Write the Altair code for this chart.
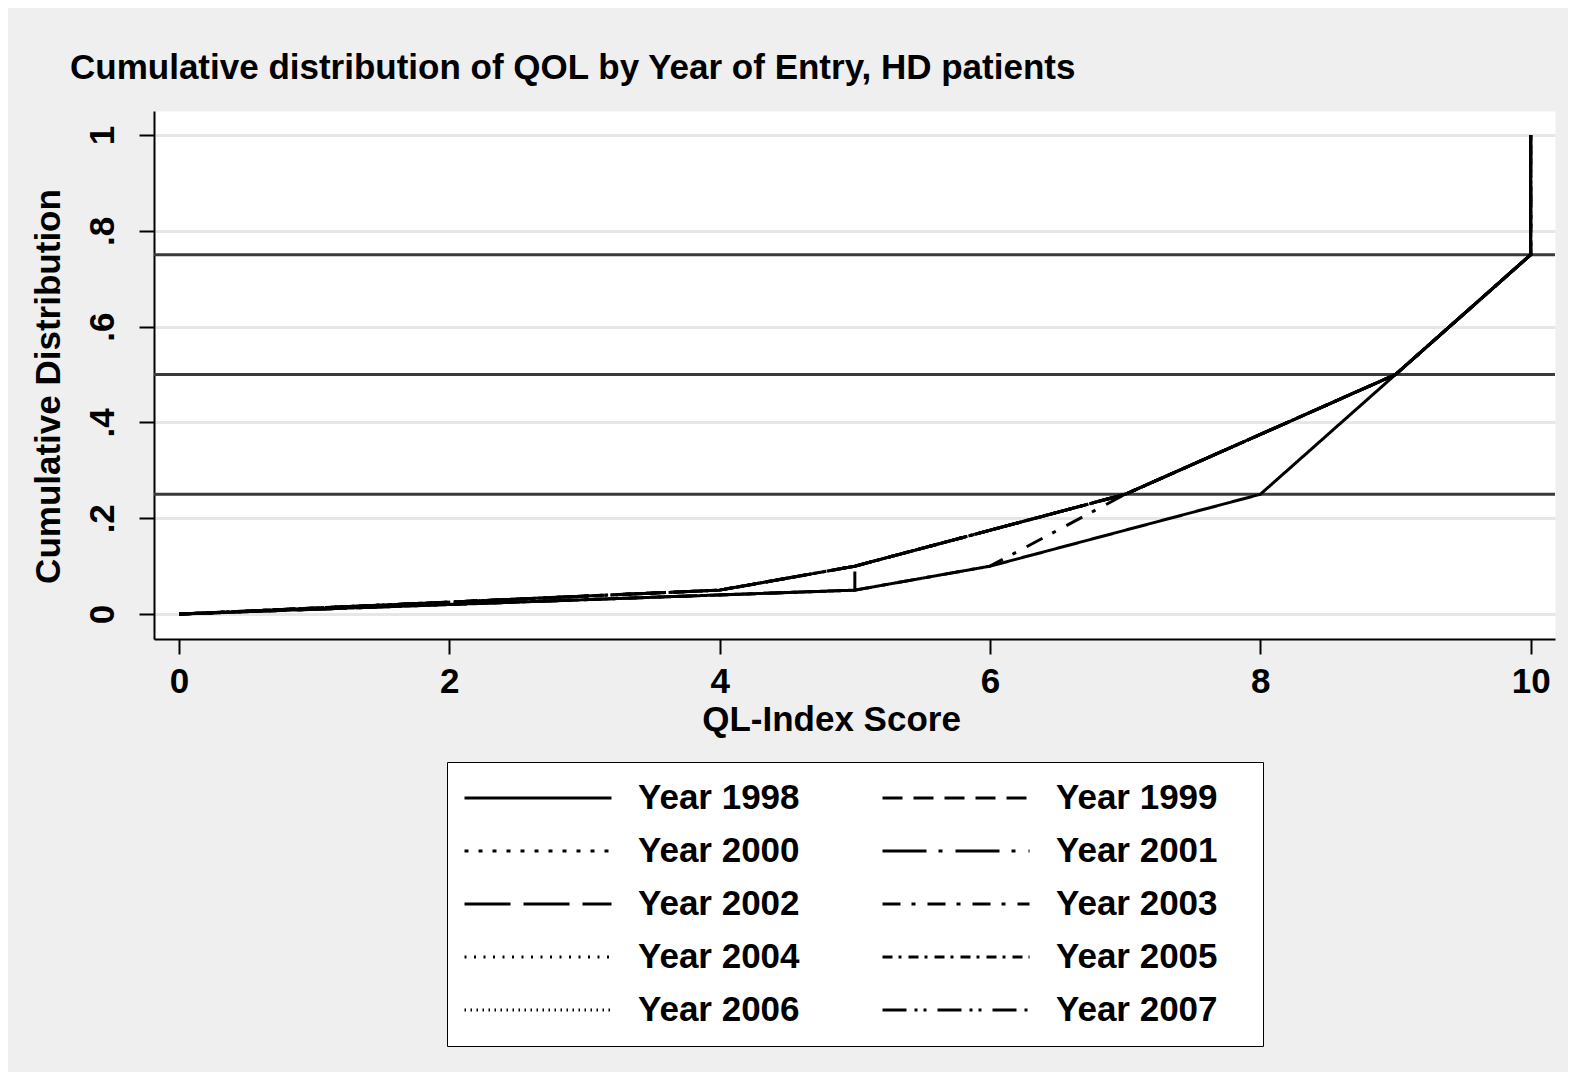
import altair as alt
import pandas as pd

# ---- data ----
years = ["Year 1998", "Year 1999", "Year 2000", "Year 2001", "Year 2002",
         "Year 2003", "Year 2004", "Year 2005", "Year 2006", "Year 2007"]

upper_x = [0, 4, 5, 7, 9, 10, 10]
upper_y = [0, 0.05, 0.10, 0.25, 0.50, 0.75, 1.0]
lower_x = [0, 5, 6, 8, 9, 10, 10]
lower_y = [0, 0.05, 0.10, 0.25, 0.50, 0.75, 1.0]
y2003_x = [0, 5, 6, 7, 9, 10, 10]
y2003_y = [0, 0.05, 0.10, 0.25, 0.50, 0.75, 1.0]
y2002_x = [0, 5, 5, 7, 9, 10, 10]
y2002_y = [0, 0.05, 0.10, 0.25, 0.50, 0.75, 1.0]

series_points = {
    "Year 1998": (lower_x, lower_y),
    "Year 1999": (upper_x, upper_y),
    "Year 2000": (upper_x, upper_y),
    "Year 2001": (upper_x, upper_y),
    "Year 2002": (y2002_x, y2002_y),
    "Year 2003": (y2003_x, y2003_y),
    "Year 2004": (upper_x, upper_y),
    "Year 2005": (upper_x, upper_y),
    "Year 2006": (upper_x, upper_y),
    "Year 2007": (upper_x, upper_y),
}

dash_patterns = [[1, 0], [20, 11], [4, 10], [44, 12, 4, 13], [46, 13],
                 [18, 11, 4, 12], [2, 7.5], [10, 6, 3, 7], [1.5, 4.5],
                 [24, 8, 3, 6, 3, 11]]

ref_levels = [0.25, 0.5, 0.75]

rows = []
for yr in years:
    xs, ys = series_points[yr]
    for i, (xv, yv) in enumerate(zip(xs, ys)):
        rows.append({"year": yr, "idx": i, "score": xv, "cum": yv})
df = pd.DataFrame(rows)
ref_df = pd.DataFrame({"level": ref_levels})

FONT = "Liberation Sans"
FS = 35

x_scale = alt.Scale(domain=[-0.185, 10.18], nice=False, zero=False)
y_scale = alt.Scale(domain=[-0.052, 1.05], nice=False, zero=False)

x_axis = alt.Axis(values=[0, 2, 4, 6, 8, 10], grid=False, tickSize=15, tickWidth=2,
                  tickColor="black", domainColor="black", domainWidth=2,
                  labelFont=FONT, labelFontSize=FS, labelFontWeight="bold",
                  labelColor="black", labelBaseline="alphabetic", labelPadding=38,
                  labelFlush=False,
                  title="QL-Index Score", titleFont=FONT, titleFontSize=FS,
                  titleFontWeight="bold", titleColor="black", titleX=677, titleY=91,
                  titleBaseline="alphabetic", titleAlign="center")

y_axis = alt.Axis(values=[0, 0.2, 0.4, 0.6, 0.8, 1.0], grid=True, gridColor="#e6e6e6",
                  gridWidth=3, tickSize=15, tickWidth=2, tickColor="black",
                  domainColor="black", domainWidth=2,
                  labelAngle=270, labelAlign="center", labelBaseline="alphabetic",
                  labelPadding=26, labelFlush=False,
                  labelExpr="datum.value == 0 ? '0' : datum.value == 1 ? '1' : replace(format(datum.value, '.1f'), '0.', '.')",
                  labelFont=FONT, labelFontSize=FS, labelFontWeight="bold", labelColor="black",
                  title="Cumulative Distribution", titleFont=FONT, titleFontSize=FS,
                  titleFontWeight="bold", titleColor="black", titleAngle=270,
                  titleX=-95, titleY=275, titleAlign="center", titleBaseline="alphabetic")

legend = alt.Legend(orient="none", legendX=293, legendY=651, columns=2,
                    direction="horizontal",
                    symbolType="stroke", symbolSize=21609, symbolStrokeWidth=3,
                    symbolStrokeColor="black", clipHeight=40, rowPadding=13,
                    columnPadding=81, labelOffset=25, labelFont=FONT, labelFontSize=FS,
                    labelFontWeight="bold", labelColor="black", labelBaseline="middle",
                    labelLimit=500, titleOrient="right", titlePadding=29,
                    titleFont=FONT, titleFontSize=FS,
                    padding=16, strokeColor="black", fillColor="white")

refs = alt.Chart(ref_df).mark_rule(color="#3a3a3a", strokeWidth=3).encode(
    y=alt.Y("level:Q", scale=y_scale, axis=y_axis)
)

lines = alt.Chart(df).mark_line(color="black", strokeWidth=3).encode(
    x=alt.X("score:Q", scale=x_scale, axis=x_axis),
    y=alt.Y("cum:Q", scale=y_scale, axis=y_axis),
    strokeDash=alt.StrokeDash("year:N", title=" ",
                              scale=alt.Scale(domain=years, range=dash_patterns),
                              legend=legend),
    order="idx:Q",
)

chart = alt.layer(refs, lines).properties(
    width=1401, height=528,
    autosize=alt.AutoSizeParams(type="none"),
    padding={"left": 146, "top": 103, "right": 13, "bottom": 433},
    background="#efefef",
    title=alt.TitleParams(text="Cumulative distribution of QOL by Year of Entry, HD patients",
                          anchor="start", dx=39, dy=3, offset=0, baseline="alphabetic",
                          font=FONT, fontSize=FS, fontWeight="bold", color="black"),
).configure_view(fill="white", stroke="transparent")

chart.save("out.html", embed_options={"renderer": "svg", "actions": False})
